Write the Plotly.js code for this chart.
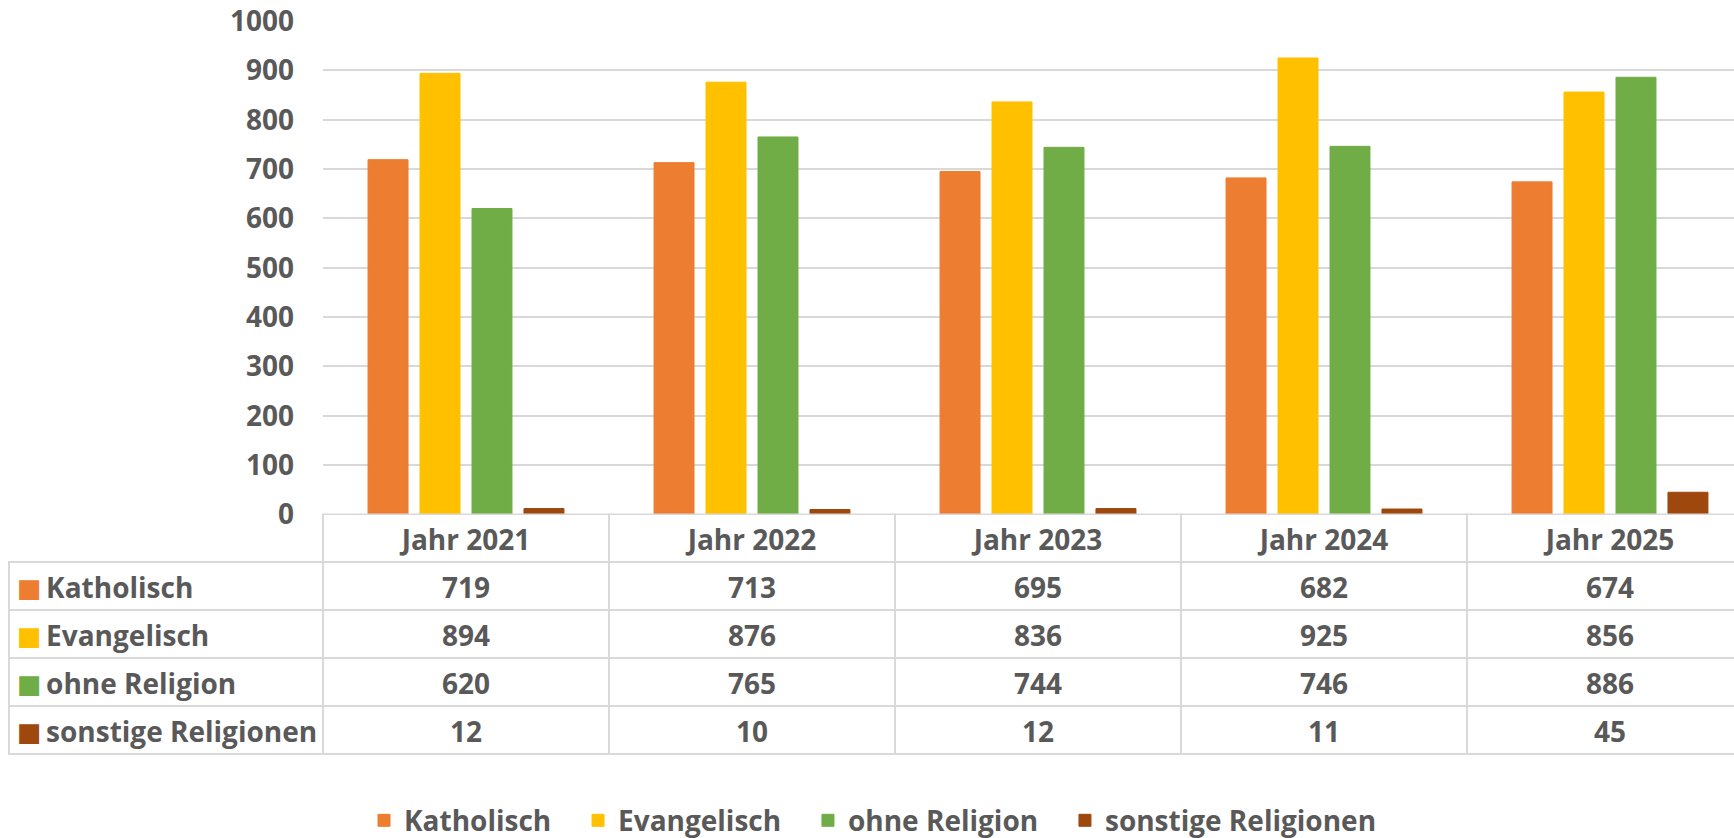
<!DOCTYPE html>
<html>
<head>
<meta charset="utf-8">
<script src="https://cdn.plot.ly/plotly-3.0.1.min.js"></script>
<style>
html, body { margin: 0; padding: 0; overflow: hidden; background: #fff; }
#chart { width: 1753px; height: 838px; }
/* plotly puts table text at the top of the cell, excel centers it */
.cell-text { translate: 0 7px; }
</style>
</head>
<body>
<div id="chart"></div>
<script>
var years = ['Jahr 2021', 'Jahr 2022', 'Jahr 2023', 'Jahr 2024', 'Jahr 2025'];
var seriesNames = ['Katholisch', 'Evangelisch', 'ohne Religion', 'sonstige Religionen'];

var katholisch = [719, 713, 695, 682, 674];
var evangelisch = [894, 876, 836, 925, 856];
var ohneReligion = [620, 765, 744, 746, 886];
var sonstige = [12, 10, 12, 11, 45];

var colors = ['#ED7D31', '#FFC000', '#70AD47', '#9E480E'];

var allValues = [katholisch, evangelisch, ohneReligion, sonstige];
var grey = '#595959';
var lineGrey = '#d9d9d9';
var NBSP = '\u00a0';
var font = {family: 'Open Sans, sans-serif', size: 28, color: grey, weight: 'bold'};
var W = 1753;
var tableDomainY = [0.1, 0.396];

var data = [];
for (var i = 0; i < seriesNames.length; i++) {
    data.push({
        type: 'bar',
        x: years,
        y: allValues[i],
        name: seriesNames[i] + NBSP + NBSP + NBSP,
        marker: {color: colors[i], line: {color: colors[i], width: 1}},
        hoverinfo: 'none'
    });
}

// data table under the bars (like the excel chart)
// nbsp instead of spaces, otherwise plotly wraps the cell text word by word
var rowLabels = seriesNames.map(function (n) {
    return NBSP + NBSP + NBSP + NBSP + n.replace(/ /g, NBSP);
});
var tableCols = [rowLabels];
years.forEach(function (y, j) {
    tableCols.push(allValues.map(function (s) { return s[j]; }));
});
var headerVals = [''].concat(years.map(function (y) { return y.replace(/ /g, NBSP); }));

var headerLine = ['rgba(0,0,0,0)'].concat(years.map(function () { return lineGrey; }));
var headerFill = ['rgba(0,0,0,0)'].concat(years.map(function () { return 'white'; }));
var cellAlign = ['left'].concat(years.map(function () { return 'center'; }));

data.push({
    type: 'table',
    domain: {x: [9 / W, 1], y: tableDomainY},
    columnwidth: [314, 286, 286, 286, 286, 286],
    header: {
        values: headerVals,
        align: 'center',
        height: 48,
        font: font,
        fill: {color: headerFill},
        line: {color: headerLine, width: 2}
    },
    cells: {
        values: tableCols,
        align: cellAlign,
        height: 48,
        font: font,
        fill: {color: 'white'},
        line: {color: lineGrey, width: 2}
    }
});

// coloured keys in front of the row labels, a transparent table on top
data.push({
    type: 'table',
    domain: {x: [9 / W, 70 / W], y: tableDomainY},
    header: {
        values: [''],
        height: 48,
        fill: {color: 'rgba(0,0,0,0)'},
        line: {color: 'rgba(0,0,0,0)', width: 0}
    },
    cells: {
        values: [seriesNames.map(function () { return '\u25A0'; })],
        align: 'left',
        height: 48,
        font: {family: 'DejaVu Sans', size: 26, color: [colors]},
        fill: {color: 'rgba(0,0,0,0)'},
        line: {color: 'rgba(0,0,0,0)', width: 0}
    }
});

var layout = {
    width: W,
    height: 838,
    margin: {l: 0, r: 0, t: 21, b: 0, autoexpand: false},
    paper_bgcolor: 'white',
    plot_bgcolor: 'white',
    font: font,
    barmode: 'group',
    bargap: 0.273,
    bargroupgap: 0.231,
    xaxis: {
        domain: [323 / W, 1],
        range: [-0.5, 4.5],
        showticklabels: false,
        showgrid: false,
        zeroline: false,
        fixedrange: true
    },
    yaxis: {
        domain: [0.396, 1],
        range: [0, 1000],
        dtick: 100,
        gridcolor: lineGrey,
        gridwidth: 2,
        zeroline: false,
        ticklabelstandoff: 28,
        tickfont: font,
        fixedrange: true
    },
    legend: {
        orientation: 'h',
        x: 0.504,
        xanchor: 'center',
        y: 0.0213,
        yanchor: 'middle',
        font: font
    },
    showlegend: true
};

Plotly.newPlot('chart', data, layout, {displayModeBar: false, staticPlot: true});
</script>
</body>
</html>
